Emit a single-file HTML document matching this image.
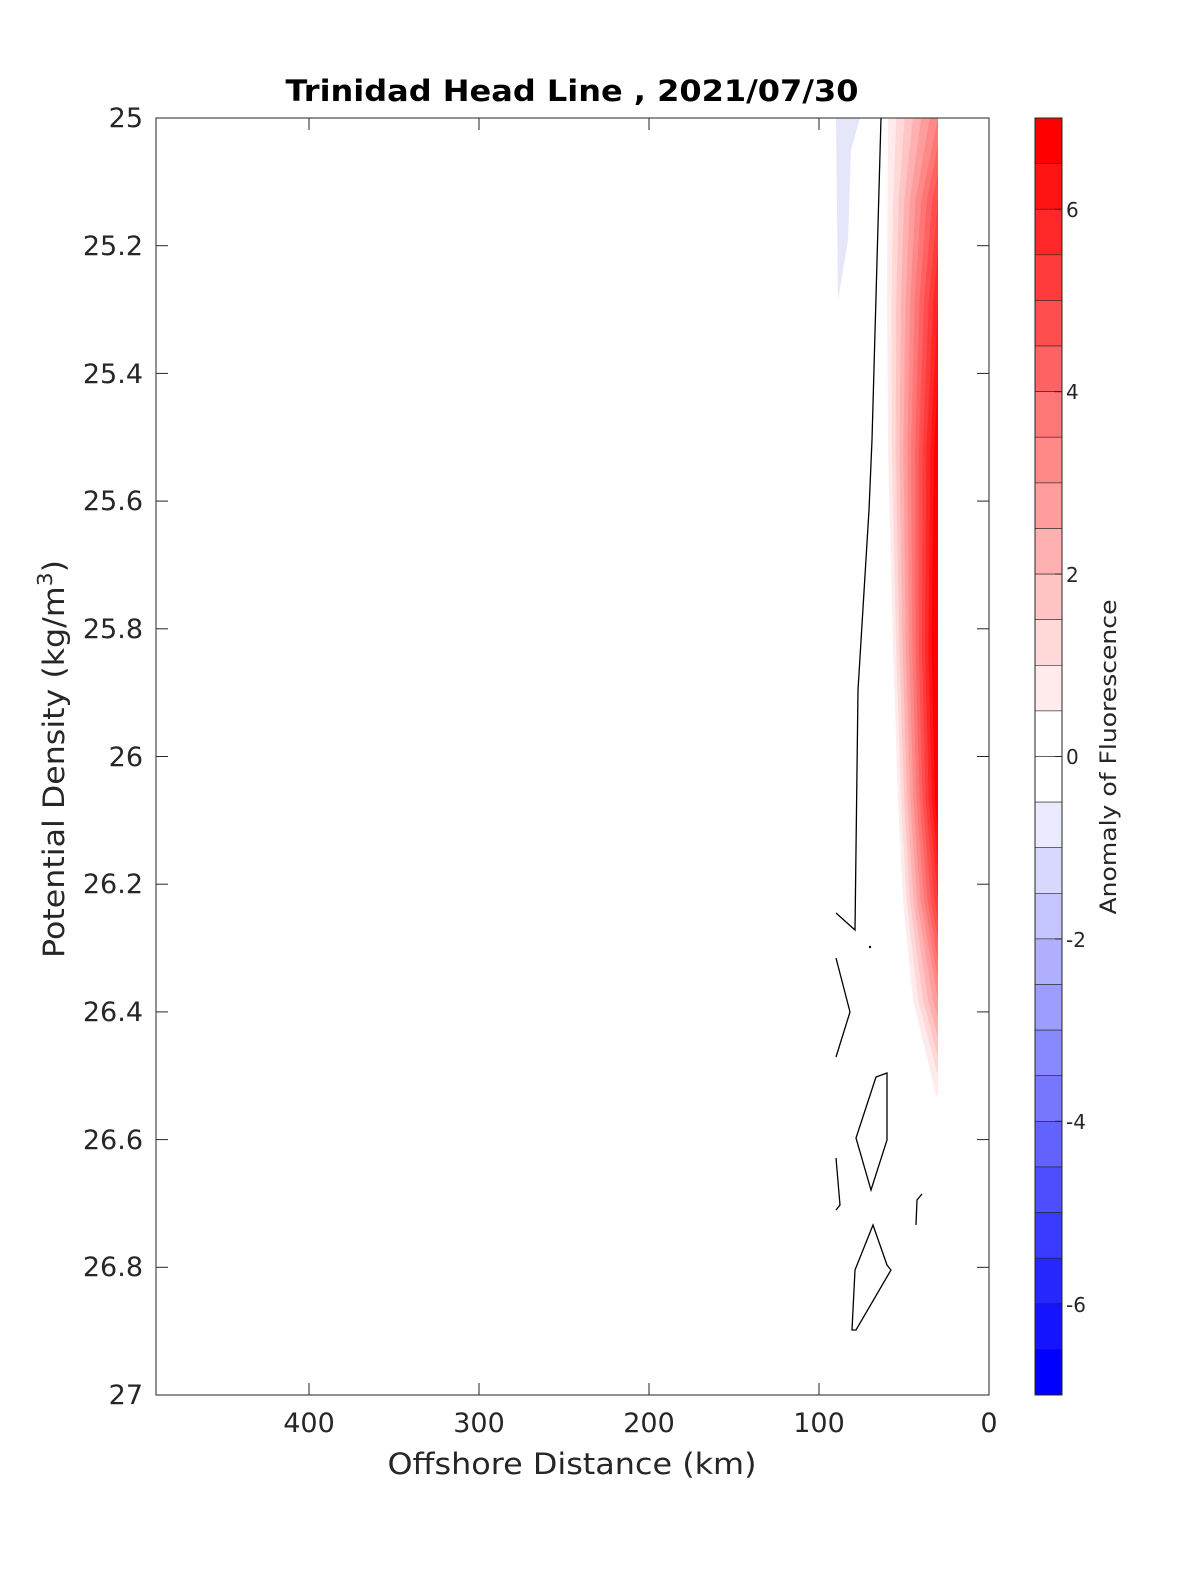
<!DOCTYPE html>
<html><head><meta charset="utf-8"><style>html,body{margin:0;padding:0;background:#fff;overflow:hidden;width:1200px;height:1575px}svg{display:block;font-family:"DejaVu Sans","Liberation Sans",sans-serif}</style></head><body>
<svg width="1200" height="1575" viewBox="0 0 1200 1575" xmlns="http://www.w3.org/2000/svg">
<rect width="1200" height="1575" fill="#fff"/>
<polygon points="836,118 860,118 851,150 848,240 838,300" fill="#e6e6fb"/>
<polygon points="938,118 888,118 887.5,200 887,300 888,450 893,650 898,800 903,900 913,1000 936,1095 938,1095" fill="rgb(255,235,235)"/>
<polygon points="938,118 896.3,118 893.1,200 891.6,300 891.9,450 896.2,650 901.1,800 906.5,900 918,1000 938,1076" fill="rgb(255,216,216)"/>
<polygon points="938,118 904.7,118 898.7,200 896.3,300 895.7,450 899.4,650 904.2,800 910,900 923,1000 938,1057" fill="rgb(255,196,196)"/>
<polygon points="938,118 913,118 904.3,200 900.9,300 899.6,450 902.6,650 907.2,800 913.5,900 928,1000 938,1038" fill="rgb(255,176,176)"/>
<polygon points="938,118 921.3,118 909.9,200 905.6,300 903.4,450 905.8,650 910.3,800 917,900 933,1000 938,1019" fill="rgb(255,157,157)"/>
<polygon points="938,118 929.7,118 915.6,200 910.2,300 907.3,450 909.1,650 913.4,800 920.5,900 938,1000" fill="rgb(255,137,137)"/>
<polygon points="938,118 921.2,200 914.8,300 911.1,450 912.3,650 916.5,800 924,900 938,980" fill="rgb(255,118,118)"/>
<polygon points="938,145 926.8,200 919.5,300 915,450 915.5,650 919.6,800 927.5,900 938,960" fill="rgb(255,98,98)"/>
<polygon points="938,173 932.4,200 924.1,300 918.8,450 918.7,650 922.6,800 931,900 938,940" fill="rgb(255,78,78)"/>
<polygon points="938,200 928.8,300 922.7,450 921.9,650 925.7,800 934.5,900 938,920" fill="rgb(255,59,59)"/>
<polygon points="938,250 933.4,300 926.5,450 925.1,650 928.8,800 938,900" fill="rgb(255,39,39)"/>
<polygon points="938,300 930.4,450 928.4,650 931.9,800 938,867" fill="rgb(255,20,20)"/>
<polygon points="938,375 934.2,450 931.6,650 935,800 938,833" fill="rgb(255,0,0)"/>
<g fill="none" stroke="#000" stroke-width="1.3">
<polyline points="881,118 872,440 869,510 858,690 855,930 836,913"/>
<polyline points="836,958 850,1012 836,1057"/>
<polygon points="887,1073 876,1077 856,1138 871,1190 887,1140"/>
<polyline points="836,1158 840,1205 836,1210"/>
<polyline points="916,1225 917,1200 922,1194"/>
<polygon points="873,1225 855,1270 852,1330 856,1330 891,1270 887,1265"/>
</g>
<circle cx="870" cy="947" r="1.2" fill="#000"/>
<rect x="156" y="118" width="833" height="1277" fill="none" stroke="#262626" stroke-width="1"/>
<g stroke="#262626" stroke-width="1">
<line x1="309" y1="1395" x2="309" y2="1383"/><line x1="479" y1="1395" x2="479" y2="1383"/><line x1="649" y1="1395" x2="649" y2="1383"/><line x1="819" y1="1395" x2="819" y2="1383"/>
<line x1="309" y1="118" x2="309" y2="130"/><line x1="479" y1="118" x2="479" y2="130"/><line x1="649" y1="118" x2="649" y2="130"/><line x1="819" y1="118" x2="819" y2="130"/>
<line x1="156" y1="245.7" x2="168" y2="245.7"/><line x1="989" y1="245.7" x2="977" y2="245.7"/>
<line x1="156" y1="373.4" x2="168" y2="373.4"/><line x1="989" y1="373.4" x2="977" y2="373.4"/>
<line x1="156" y1="501.1" x2="168" y2="501.1"/><line x1="989" y1="501.1" x2="977" y2="501.1"/>
<line x1="156" y1="628.8" x2="168" y2="628.8"/><line x1="989" y1="628.8" x2="977" y2="628.8"/>
<line x1="156" y1="756.5" x2="168" y2="756.5"/><line x1="989" y1="756.5" x2="977" y2="756.5"/>
<line x1="156" y1="884.2" x2="168" y2="884.2"/><line x1="989" y1="884.2" x2="977" y2="884.2"/>
<line x1="156" y1="1011.9" x2="168" y2="1011.9"/><line x1="989" y1="1011.9" x2="977" y2="1011.9"/>
<line x1="156" y1="1139.6" x2="168" y2="1139.6"/><line x1="989" y1="1139.6" x2="977" y2="1139.6"/>
<line x1="156" y1="1267.3" x2="168" y2="1267.3"/><line x1="989" y1="1267.3" x2="977" y2="1267.3"/>
</g>
<g font-size="27" fill="#262626" text-anchor="middle">
<text x="309" y="1432">400</text><text x="479" y="1432">300</text><text x="649" y="1432">200</text><text x="819" y="1432">100</text><text x="989" y="1432">0</text>
</g>
<g font-size="27" fill="#262626" text-anchor="end">
<text x="143" y="127">25</text><text x="143" y="255">25.2</text><text x="143" y="383">25.4</text><text x="143" y="510">25.6</text><text x="143" y="638">25.8</text><text x="143" y="766">26</text><text x="143" y="893">26.2</text><text x="143" y="1021">26.4</text><text x="143" y="1149">26.6</text><text x="143" y="1276">26.8</text><text x="143" y="1404">27</text>
</g>
<text x="572" y="1474" font-size="29" fill="#262626" text-anchor="middle" textLength="369" lengthAdjust="spacingAndGlyphs">Offshore Distance (km)</text>
<text transform="translate(64,759) rotate(-90)" font-size="29" fill="#262626" text-anchor="middle" textLength="398" lengthAdjust="spacingAndGlyphs">Potential Density (kg/m<tspan dy="-12" font-size="20">3</tspan><tspan dy="12">)</tspan></text>
<text x="572" y="101" font-size="29" font-weight="bold" fill="#000" text-anchor="middle" textLength="573" lengthAdjust="spacingAndGlyphs">Trinidad Head Line , 2021/07/30</text>
<g stroke="#262626" stroke-width="0.6">
<rect x="1035" y="118" width="27" height="45.6" fill="rgb(255,0,0)"/>
<rect x="1035" y="163.6" width="27" height="45.6" fill="rgb(255,20,20)"/>
<rect x="1035" y="209.2" width="27" height="45.6" fill="rgb(255,39,39)"/>
<rect x="1035" y="254.8" width="27" height="45.6" fill="rgb(255,59,59)"/>
<rect x="1035" y="300.4" width="27" height="45.6" fill="rgb(255,78,78)"/>
<rect x="1035" y="346" width="27" height="45.6" fill="rgb(255,98,98)"/>
<rect x="1035" y="391.6" width="27" height="45.6" fill="rgb(255,118,118)"/>
<rect x="1035" y="437.2" width="27" height="45.6" fill="rgb(255,137,137)"/>
<rect x="1035" y="482.9" width="27" height="45.6" fill="rgb(255,157,157)"/>
<rect x="1035" y="528.5" width="27" height="45.6" fill="rgb(255,176,176)"/>
<rect x="1035" y="574.1" width="27" height="45.6" fill="rgb(255,196,196)"/>
<rect x="1035" y="619.7" width="27" height="45.6" fill="rgb(255,216,216)"/>
<rect x="1035" y="665.3" width="27" height="45.6" fill="rgb(255,235,235)"/>
<rect x="1035" y="710.9" width="27" height="45.6" fill="#fff"/>
<rect x="1035" y="756.5" width="27" height="45.6" fill="#fff"/>
<rect x="1035" y="802.1" width="27" height="45.6" fill="rgb(235,235,255)"/>
<rect x="1035" y="847.7" width="27" height="45.6" fill="rgb(216,216,255)"/>
<rect x="1035" y="893.3" width="27" height="45.6" fill="rgb(196,196,255)"/>
<rect x="1035" y="938.9" width="27" height="45.6" fill="rgb(176,176,255)"/>
<rect x="1035" y="984.5" width="27" height="45.6" fill="rgb(157,157,255)"/>
<rect x="1035" y="1030.1" width="27" height="45.6" fill="rgb(137,137,255)"/>
<rect x="1035" y="1075.7" width="27" height="45.6" fill="rgb(118,118,255)"/>
<rect x="1035" y="1121.4" width="27" height="45.6" fill="rgb(98,98,255)"/>
<rect x="1035" y="1167" width="27" height="45.6" fill="rgb(78,78,255)"/>
<rect x="1035" y="1212.6" width="27" height="45.6" fill="rgb(59,59,255)"/>
<rect x="1035" y="1258.2" width="27" height="45.6" fill="rgb(39,39,255)"/>
<rect x="1035" y="1303.8" width="27" height="45.6" fill="rgb(20,20,255)"/>
<rect x="1035" y="1349.4" width="27" height="45.6" fill="rgb(0,0,255)"/>
</g>
<rect x="1035" y="118" width="27" height="1277" fill="none" stroke="#262626" stroke-width="1"/>
<g stroke="#262626">
<line x1="1055" y1="209.3" x2="1062" y2="209.3"/><line x1="1055" y1="391.7" x2="1062" y2="391.7"/><line x1="1055" y1="574.1" x2="1062" y2="574.1"/><line x1="1055" y1="756.5" x2="1062" y2="756.5"/><line x1="1055" y1="938.9" x2="1062" y2="938.9"/><line x1="1055" y1="1121.3" x2="1062" y2="1121.3"/><line x1="1055" y1="1303.7" x2="1062" y2="1303.7"/>
</g>
<g font-size="20" fill="#262626">
<text x="1066" y="217">6</text><text x="1066" y="399">4</text><text x="1066" y="582">2</text><text x="1066" y="764">0</text><text x="1066" y="947">-2</text><text x="1066" y="1129">-4</text><text x="1066" y="1312">-6</text>
</g>
<text transform="translate(1116,757) rotate(-90)" font-size="22" fill="#262626" text-anchor="middle" textLength="315" lengthAdjust="spacingAndGlyphs">Anomaly of Fluorescence</text>
</svg>
</body></html>
